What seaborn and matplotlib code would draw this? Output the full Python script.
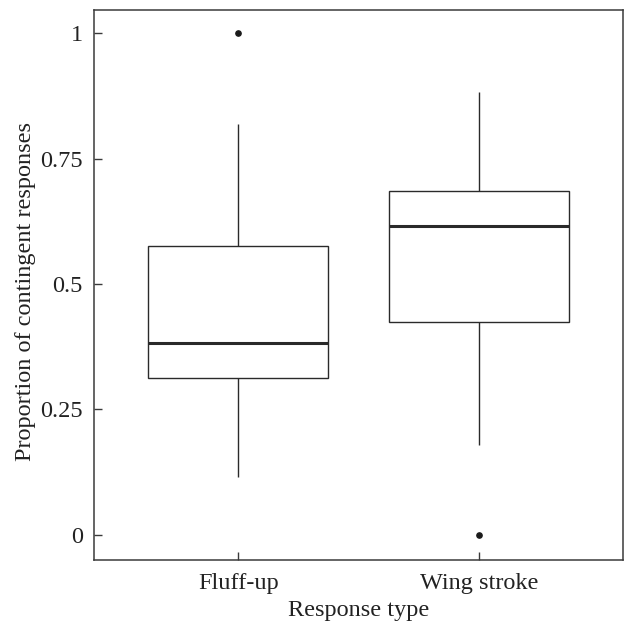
import numpy as np
import pandas as pd
import matplotlib
matplotlib.use("Agg")
import matplotlib.pyplot as plt
import seaborn as sns

# Summary values
categories = ["Fluff-up", "Wing stroke"]
whisker_low = [0.115, 0.179]
q1 = [0.312, 0.425]
median = [0.383, 0.616]
q3 = [0.575, 0.685]
whisker_high = [0.819, 0.882]
outliers = [[1.0], [0.0]]
y_ticks = [0, 0.25, 0.5, 0.75, 1]
y_ticklabels = ["0", "0.25", "0.5", "0.75", "1"]

# Build a sample per group whose box-plot statistics reproduce the summary
rows = []
for i, cat in enumerate(categories):
    vals = [whisker_low[i], q1[i], q1[i], median[i], median[i], q3[i], q3[i], whisker_high[i]]
    vals += outliers[i]
    for v in vals:
        rows.append({"Response type": cat, "value": v})
df = pd.DataFrame(rows)

sns.set_style("white")
plt.rcParams["font.family"] = ["Liberation Serif", "DejaVu Serif"]

fig = plt.figure(figsize=(6.25, 6.25), dpi=100)
ax = fig.add_axes([0.1504, 0.104, 0.8464, 0.8806])

lc = "#2a2a2a"
sns.boxplot(
    data=df, x="Response type", y="value", order=categories, ax=ax,
    width=0.75, whis=1.5, color="white", linewidth=1.0, linecolor=lc,
    showcaps=False,
    boxprops=dict(facecolor="white", edgecolor=lc, linewidth=1.0),
    whiskerprops=dict(color=lc, linewidth=1.0),
    medianprops=dict(color=lc, linewidth=2.2),
    flierprops=dict(marker="o", markersize=3.8, markerfacecolor="#1a1a1a",
                    markeredgecolor="#1a1a1a"),
)

ax.set_xlim(-0.6, 1.6)
ax.set_ylim(-0.05, 1.047)
ax.set_yticks(y_ticks)
ax.set_yticklabels(y_ticklabels)
ax.tick_params(axis="both", which="major", direction="in", length=6, width=1.0,
               color="#3a3a3a", labelsize=17.5, labelcolor="#222222",
               bottom=True, left=True, top=False, right=False)
ax.tick_params(axis="y", pad=8)
ax.tick_params(axis="x", pad=9)
for s in ax.spines.values():
    s.set_visible(True)
    s.set_color("#3a3a3a")
    s.set_linewidth(1.1)

ax.set_xlabel("Response type", fontsize=17.5, color="#222222", labelpad=5)
ax.set_ylabel("Proportion of contingent responses", fontsize=17.5, color="#222222", labelpad=3)
ax.yaxis.label.set_y(0.487)

fig.savefig("out.png", dpi=100, facecolor="white")
